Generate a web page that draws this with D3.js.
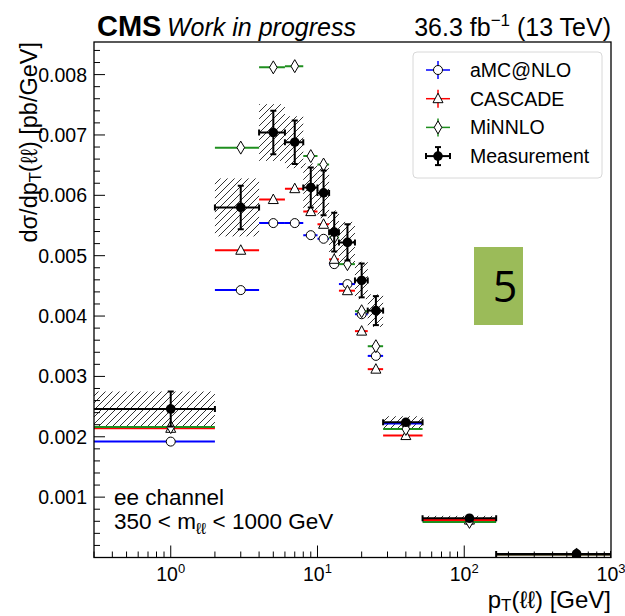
<!DOCTYPE html>
<html>
<head>
<meta charset="utf-8">
<script src="https://cdn.jsdelivr.net/npm/d3@7"></script>
<style>
body{margin:0;background:#fff;}
svg text{font-family:"Liberation Sans",Arial,Helvetica,sans-serif;fill:#000;}
</style>
</head>
<body>
<div id="content"></div>
<script>
//pT(ll) bins in GeV, the first bin starts at 0 and is cut by the log axis
var binLow=[0, 2, 4, 6, 8, 10, 12, 14, 18, 22, 28, 52, 165];
var binHigh=[2, 4, 6, 8, 10, 12, 14, 18, 22, 28, 52, 165, 1000];

//dsigma/dpT in pb/GeV
var measured=[0.00246, 0.00580, 0.00704, 0.00688, 0.00613, 0.00604, 0.00539, 0.00522, 0.00459, 0.00409, 0.00224, 0.00065, 0.00006];
var statErr=[0.00029, 0.00036, 0.00036, 0.00036, 0.00033, 0.00037, 0.00032, 0.00030, 0.00028, 0.00024, 0.00004, 0.00002, 0.00001];
var totalErr=[0.00029, 0.00048, 0.00047, 0.00043, 0.00040, 0.00042, 0.00036, 0.00034, 0.00031, 0.00027, 0.00010, 0.00004, 0.00001];
var amcnlo=[0.00192, 0.00443, 0.00554, 0.00554, 0.00534, 0.00528, 0.00486, 0.00453, 0.00403, 0.00334, 0.00222, 0.00061, 0.00005];
var cascade=[0.00214, 0.00509, 0.00593, 0.00611, 0.00573, 0.00552, 0.00494, 0.00442, 0.00375, 0.00312, 0.00202, 0.00062, 0.00005];
var minnlo=[0.00216, 0.00679, 0.00812, 0.00814, 0.00665, 0.00651, 0.00530, 0.00486, 0.00408, 0.00350, 0.00213, 0.00059, 0.00005];

var seriesNames=['aMC@NLO', 'CASCADE', 'MiNNLO', 'Measurement'];
var yTicks=[0.001, 0.002, 0.003, 0.004, 0.005, 0.006, 0.007, 0.008];
var yTickLabels=['0.001', '0.002', '0.003', '0.004', '0.005', '0.006', '0.007', '0.008'];
var xTickPowers=[0, 1, 2, 3];

//layout
var svg_width=625;
var svg_height=616;
var margin={top: 42, right: 14, bottom: 58.5, left: 94};
var chart_width=svg_width-margin['left']-margin['right'];
var chart_height=svg_height-margin['top']-margin['bottom'];
var xDomain=[0.3, 1000];
var yDomain=[0, 0.00854];

var blue='#0000ff';
var red='#ff0000';
var green='#1f8f1f';
var seriesColors=[blue, red, green, '#000'];
var seriesShapes=['circle', 'triangle', 'diamond', 'dot'];

var svg=d3.select('#content').append('svg')
	.attr('width', svg_width)
	.attr('height', svg_height);

var xScale=d3.scaleLog().domain(xDomain).range([margin['left'], margin['left']+chart_width]);
var yScale=d3.scaleLinear().domain(yDomain).range([margin['top']+chart_height, margin['top']]);

//clips bin edges to the visible range of the log axis
function binX(v){
	return xScale(Math.max(v, xDomain[0]));
}

function binCenter(i){
	return (binLow[i]+binHigh[i])/2;
}

//draws an open marker of the given shape
function drawMarker(g, shape, x, y, color){
	if(shape=='circle'){
		g.append('circle').attr('cx', x).attr('cy', y).attr('r', 4.5)
			.style('fill', '#fff').style('stroke', '#000').style('stroke-width', 1);
	}
	else if(shape=='triangle'){
		g.append('path').attr('d', 'M0,-5.5L5,4L-5,4Z')
			.attr('transform', 'translate('+x+','+y+')')
			.style('fill', '#fff').style('stroke', '#000').style('stroke-width', 1);
	}
	else if(shape=='diamond'){
		g.append('path').attr('d', 'M0,-6.5L3.8,0L0,6.5L-3.8,0Z')
			.attr('transform', 'translate('+x+','+y+')')
			.style('fill', '#fff').style('stroke', '#000').style('stroke-width', 1);
	}
	else{
		g.append('circle').attr('cx', x).attr('cy', y).attr('r', 4.8).style('fill', color);
	}
}

//hatch pattern for the total uncertainty
var defs=svg.append('defs');
defs.append('pattern')
	.attr('id', 'hatch')
	.attr('patternUnits', 'userSpaceOnUse')
	.attr('width', 7)
	.attr('height', 7)
	.append('path')
	.attr('d', 'M-1,1L1,-1M0,7L7,0M6,8L8,6')
	.style('stroke', '#333')
	.style('stroke-width', 1);

defs.append('clipPath').attr('id', 'plotclip')
	.append('rect')
	.attr('x', margin['left']).attr('y', margin['top'])
	.attr('width', chart_width).attr('height', chart_height);

var plot=svg.append('g').attr('clip-path', 'url(#plotclip)');

//uncertainty boxes
plot.selectAll('.unc')
	.data(measured)
	.enter().append('rect')
	.attr('class', 'unc')
	.attr('x', function(d, i){return binX(binLow[i]);})
	.attr('width', function(d, i){return binX(binHigh[i])-binX(binLow[i]);})
	.attr('y', function(d, i){return yScale(d+totalErr[i]);})
	.attr('height', function(d, i){return yScale(d-totalErr[i])-yScale(d+totalErr[i]);})
	.style('fill', 'url(#hatch)');

//predictions: horizontal bin lines and open markers
function drawPrediction(values, color, shape){
	var g=plot.append('g');
	g.selectAll('line')
		.data(values)
		.enter().append('line')
		.attr('x1', function(d, i){return binX(binLow[i]);})
		.attr('x2', function(d, i){return binX(binHigh[i]);})
		.attr('y1', function(d){return yScale(d);})
		.attr('y2', function(d){return yScale(d);})
		.style('stroke', color)
		.style('stroke-width', 2);
	values.forEach(function(d, i){
		drawMarker(g, shape, xScale(binCenter(i)), yScale(d), color);
	});
}

drawPrediction(amcnlo, blue, 'circle');
drawPrediction(cascade, red, 'triangle');
drawPrediction(minnlo, green, 'diamond');

//measurement with stat error bars and bin-width bars
var meas=plot.append('g');
measured.forEach(function(d, i){
	var cx=xScale(binCenter(i));
	var cy=yScale(d);
	var x1=binX(binLow[i]);
	var x2=binX(binHigh[i]);
	var yt=yScale(d+statErr[i]);
	var yb=yScale(d-statErr[i]);
	meas.append('line').attr('x1', x1).attr('x2', x2).attr('y1', cy).attr('y2', cy)
		.style('stroke', '#000').style('stroke-width', 2);
	meas.append('line').attr('x1', cx).attr('x2', cx).attr('y1', yt).attr('y2', yb)
		.style('stroke', '#000').style('stroke-width', 2);
	[x1, x2].forEach(function(x){
		if(x>margin['left']+1){
			meas.append('line').attr('x1', x).attr('x2', x).attr('y1', cy-3).attr('y2', cy+3)
				.style('stroke', '#000').style('stroke-width', 2);
		}
	});
	if(yb-yt>8){
		[yt, yb].forEach(function(y){
			meas.append('line').attr('x1', cx-3).attr('x2', cx+3).attr('y1', y).attr('y2', y)
				.style('stroke', '#000').style('stroke-width', 2);
		});
	}
	drawMarker(meas, 'dot', cx, cy, '#000');
});

//frame
svg.append('rect')
	.attr('x', margin['left']).attr('y', margin['top'])
	.attr('width', chart_width).attr('height', chart_height)
	.style('fill', 'none').style('stroke', '#000').style('stroke-width', 1.3);

//y axis: major and minor ticks pointing inwards
var yAxis=svg.append('g');
d3.range(0, yDomain[1], 0.0002).forEach(function(v){
	var major=Math.abs(v*1000-Math.round(v*1000))<1e-6;
	yAxis.append('line')
		.attr('x1', margin['left']).attr('x2', margin['left']+(major?11:6))
		.attr('y1', yScale(v)).attr('y2', yScale(v))
		.style('stroke', '#000').style('stroke-width', 1);
});
yAxis.selectAll('text')
	.data(yTicks)
	.enter().append('text')
	.attr('x', margin['left']-7)
	.attr('y', function(d){return yScale(d);})
	.attr('dy', '0.36em')
	.attr('text-anchor', 'end')
	.style('font-size', '19.5px')
	.text(function(d, i){return yTickLabels[i];});

//x axis: log ticks
var xAxis=svg.append('g');
var xBottom=margin['top']+chart_height;
for(var p=-1;p<3;p++){
	for(var m=1;m<10;m++){
		var v=m*Math.pow(10, p);
		if(v<xDomain[0]||v>xDomain[1]){continue;}
		xAxis.append('line')
			.attr('x1', xScale(v)).attr('x2', xScale(v))
			.attr('y1', xBottom).attr('y2', xBottom-(m==1?12:6))
			.style('stroke', '#000').style('stroke-width', 1);
	}
}
var xLabels=xAxis.selectAll('.xlab')
	.data(xTickPowers)
	.enter().append('text')
	.attr('class', 'xlab')
	.attr('x', function(d){return xScale(Math.pow(10, d));})
	.attr('y', xBottom+23)
	.attr('text-anchor', 'middle')
	.style('font-size', '19.5px');
xLabels.append('tspan').text('10');
xLabels.append('tspan').attr('dy', '-8').style('font-size', '13px').text(function(d){return d;});

//axis titles
var xTitle=svg.append('text')
	.attr('x', margin['left']+chart_width)
	.attr('y', 608)
	.attr('text-anchor', 'end')
	.style('font-size', '24px');
xTitle.append('tspan').text('p');
xTitle.append('tspan').attr('dy', 3).style('font-size', '17px').text('T');
xTitle.append('tspan').attr('dy', -3).text('(ℓℓ) [GeV]');

var yTitle=svg.append('text')
	.attr('transform', 'translate(37,'+margin['top']+') rotate(-90)')
	.attr('text-anchor', 'end')
	.style('font-size', '23.5px');
yTitle.append('tspan').text('dσ/dp');
yTitle.append('tspan').attr('dy', 4).style('font-size', '16.5px').text('T');
yTitle.append('tspan').attr('dy', -4).text('(ℓℓ) [pb/GeV]');

//header
svg.append('text').attr('x', 97).attr('y', 36)
	.style('font-size', '29px').style('font-weight', 'bold').text('CMS');
svg.append('text').attr('x', 167).attr('y', 36)
	.style('font-size', '25px').style('font-style', 'italic').text('Work in progress');
var lumi=svg.append('text').attr('x', margin['left']+chart_width).attr('y', 36)
	.attr('text-anchor', 'end').style('font-size', '25px');
lumi.append('tspan').text('36.3 fb');
lumi.append('tspan').attr('dy', -10).style('font-size', '17px').text('−1');
lumi.append('tspan').attr('dy', 10).text(' (13 TeV)');

//channel text
svg.append('text').attr('x', 114).attr('y', 505).style('font-size', '22.5px').text('ee channel');
var massText=svg.append('text').attr('x', 114).attr('y', 529).style('font-size', '22.5px');
massText.append('tspan').text('350 < m');
massText.append('tspan').attr('dy', 5).style('font-size', '16px').text('ℓℓ');
massText.append('tspan').attr('dy', -5).text(' < 1000 GeV');

//legend
var legend=svg.append('g');
legend.append('rect')
	.attr('x', 413).attr('y', 52).attr('width', 189).attr('height', 126).attr('rx', 4)
	.style('fill', '#fff').style('stroke', '#d8d8d8').style('stroke-width', 1);
seriesNames.forEach(function(name, i){
	var ly=70+i*28.7;
	var lx=438;
	var col=seriesColors[i];
	var lw=(i==3)?2:1.5;
	legend.append('line').attr('x1', lx-12).attr('x2', lx+12).attr('y1', ly).attr('y2', ly)
		.style('stroke', col).style('stroke-width', lw);
	legend.append('line').attr('x1', lx).attr('x2', lx).attr('y1', ly-9).attr('y2', ly+9)
		.style('stroke', col).style('stroke-width', lw);
	if(i==3){
		legend.append('line').attr('x1', lx-12).attr('x2', lx-12).attr('y1', ly-3).attr('y2', ly+3).style('stroke', '#000').style('stroke-width', 2);
		legend.append('line').attr('x1', lx+12).attr('x2', lx+12).attr('y1', ly-3).attr('y2', ly+3).style('stroke', '#000').style('stroke-width', 2);
		legend.append('line').attr('x1', lx-3).attr('x2', lx+3).attr('y1', ly-9).attr('y2', ly-9).style('stroke', '#000').style('stroke-width', 2);
		legend.append('line').attr('x1', lx-3).attr('x2', lx+3).attr('y1', ly+9).attr('y2', ly+9).style('stroke', '#000').style('stroke-width', 2);
	}
	drawMarker(legend, seriesShapes[i], lx, ly, col);
	legend.append('text').attr('x', 470).attr('y', ly).attr('dy', '0.36em')
		.style('font-size', '19.5px').text(name);
});

//slide number box
svg.append('rect').attr('x', 474).attr('y', 247).attr('width', 49).attr('height', 78)
	.style('fill', '#9bbb59');
svg.append('text').attr('x', 505).attr('y', 302).attr('text-anchor', 'middle')
	.style('font-size', '43px').style('font-family', '"Open Sans", sans-serif').text('5');
</script>
</body>
</html>
